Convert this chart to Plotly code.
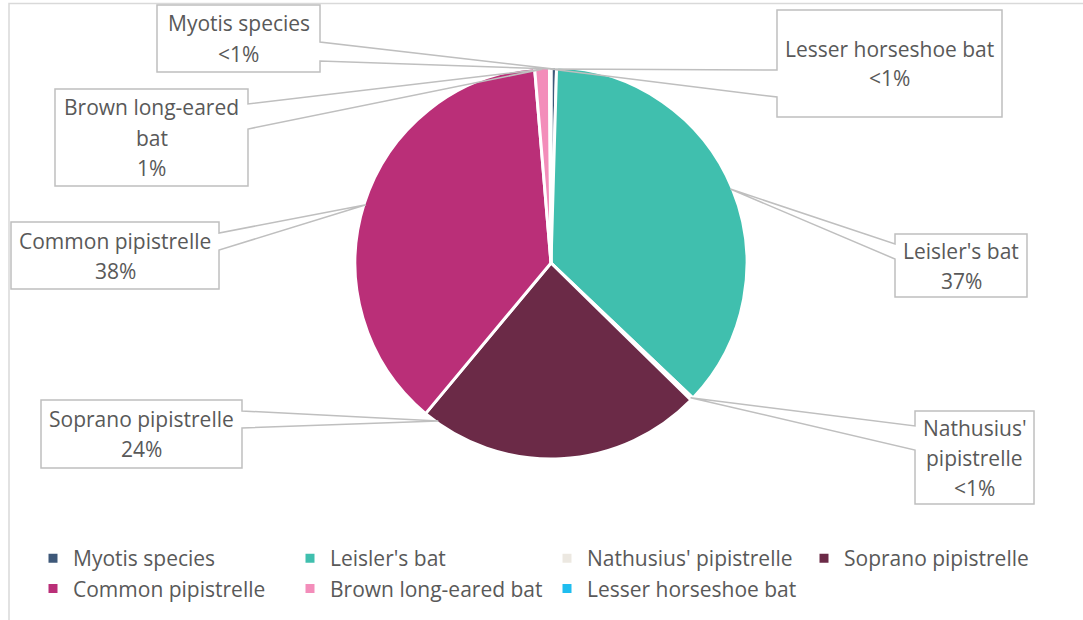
import math
import plotly.graph_objects as go

# Bat passes recorded per species
species = ["Myotis species", "Leisler's bat", "Nathusius' pipistrelle", "Soprano pipistrelle",
           "Common pipistrelle", "Brown long-eared bat", "Lesser horseshoe bat"]
passes = [18, 1452, 9, 940, 1490, 48, 5]
colors = ["#3E5879", "#40BFAE", "#ECE8E1", "#6B2A47", "#BA2F78", "#F38DBA", "#1FBDEF"]
# names as wrapped inside the callout boxes
callout_names = [["Myotis species"], ["Leisler's bat"], ["Nathusius'", "pipistrelle"], ["Soprano pipistrelle"],
                 ["Common pipistrelle"], ["Brown long-eared", "bat"], ["Lesser horseshoe bat"]]

W, H = 1083, 620
CX, CY, R = 551, 263, 196          # pie centre / radius in px
FONT = "Open Sans"
FONT_SIZE = 21
LINE_GAP = 30                      # px between callout text lines
GREY_TXT = "#595959"
GREY_LINE = "#BFBFBF"

# callout boxes in px: x0, y0, x1, y1, side the pointer leaves from, pointer joins, position along slice
callouts = [
    (157, 5, 320, 72, "right", 42, 61, 0.5),
    (895, 234, 1027, 297, "left", 244, 259, 0.5),
    (915, 411, 1034, 504, "left", 426, 450, 0.5),
    (41, 400, 242, 468, "right", 411, 428, 0.95),
    (11, 222, 219, 289, "right", 233, 250, 0.5),
    (55, 89, 248, 186, "right", 104, 129, 0.5),
    (777, 10, 1002, 117, "left", 70, 97, 0.5),
]


def px(x):
    return x / W


def py(y):
    return 1 - y / H


total = sum(passes)
pct_text = []
for v in passes:
    p = v / total * 100
    pct_text.append("&lt;1%" if p < 1 else f"{round(p)}%")

fig = go.Figure(go.Pie(
    labels=species,
    values=passes,
    sort=False,
    direction="clockwise",
    rotation=0,
    marker=dict(colors=colors, line=dict(color="white", width=3)),
    textinfo="none",
    hoverinfo="skip",
    domain=dict(x=[px(CX - R), px(CX + R)], y=[py(CY + R), py(CY - R)]),
))

shapes = []
annotations = []
cum = 0.0
for i, v in enumerate(passes):
    x0, y0, x1, y1, side, a, b, frac = callouts[i]
    ang = (cum + v * frac) / total * 2 * math.pi
    cum += v
    tx = CX + (R - 2) * math.sin(ang)
    ty = CY - (R - 2) * math.cos(ang)
    pts = [(x0, y0), (x1, y0)]
    if side == "right":
        pts += [(x1, a), (tx, ty), (x1, b)]
    pts += [(x1, y1), (x0, y1)]
    if side == "left":
        pts += [(x0, b), (tx, ty), (x0, a)]
    path = "M " + " L ".join(f"{px(x):.5f},{py(y):.5f}" for x, y in pts) + " Z"
    shapes.append(dict(type="path", xref="paper", yref="paper", path=path,
                       line=dict(color=GREY_LINE, width=1.5), fillcolor="rgba(0,0,0,0)"))
    lines = callout_names[i] + [pct_text[i]]
    mid = (y0 + y1) / 2
    first = mid - LINE_GAP * (len(lines) - 1) / 2
    for k, t in enumerate(lines):
        annotations.append(dict(xref="paper", yref="paper", x=px((x0 + x1) / 2), y=py(first + k * LINE_GAP),
                                xanchor="center", yanchor="middle", align="center", showarrow=False,
                                text=t, font=dict(family=FONT, size=FONT_SIZE, color=GREY_TXT)))

# chart area border
shapes.append(dict(type="rect", xref="paper", yref="paper", x0=px(9), x1=px(1100), y0=py(640), y1=py(3.5),
                   line=dict(color="#D9D9D9", width=1.5), fillcolor="rgba(0,0,0,0)", layer="below"))

fig.update_layout(
    width=W, height=H,
    margin=dict(l=0, r=0, t=0, b=0),
    paper_bgcolor="white", plot_bgcolor="white",
    font=dict(family=FONT, size=FONT_SIZE, color=GREY_TXT),
    shapes=shapes,
    annotations=annotations,
    showlegend=True,
    legend=dict(orientation="h", x=px(33), y=py(538), xanchor="left", yanchor="top",
                entrywidth=212, entrywidthmode="pixels", traceorder="normal",
                font=dict(family=FONT, size=FONT_SIZE, color=GREY_TXT), bgcolor="rgba(0,0,0,0)"),
)

fig.write_html("out.html")
